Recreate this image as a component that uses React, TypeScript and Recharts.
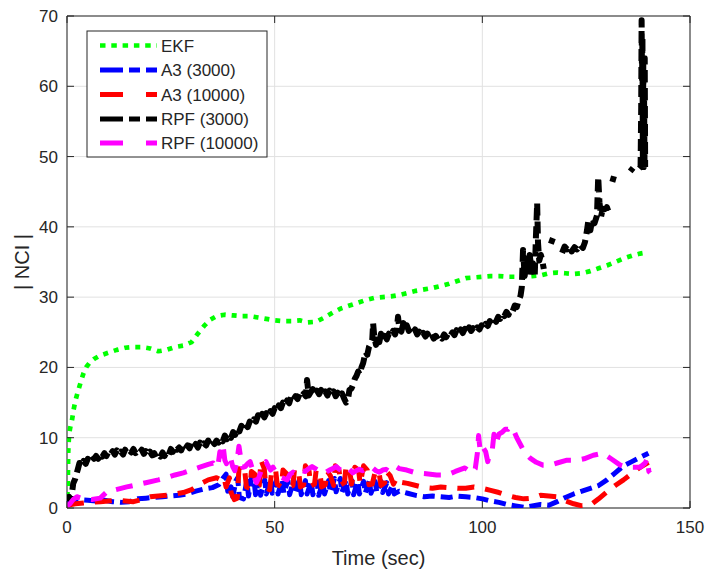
import React from 'react';
import { LineChart, Line, XAxis, YAxis, CartesianGrid, ReferenceArea, Label } from 'recharts';

const W = 707;
const H = 569;
const PL = 67;
const PT = 16;
const PR = 690;
const PB = 508;
const FONT = '"Liberation Sans", Arial, Helvetica, sans-serif';
const AX = '#262626';

const xTicks = [0, 50, 100, 150];
const yTicks = [0, 10, 20, 30, 40, 50, 60, 70];

type Pt = [number, number | null];

const ekf: Pt[] = [
  [0, 0], [0.2, 4], [0.3, 8], [0.5, 10.5], [0.8, 11.5], [1.2, 12.5], [1.6, 14], [2, 15.2], [2.5, 16.3], [3, 17.3],
  [3.5, 18.3], [4, 19.2], [4.7, 20.1], [5.5, 20.7], [6.5, 21.2], [8, 21.7], [10, 22.1], [12, 22.5], [14, 22.8],
  [16, 22.9], [18, 22.9], [20, 22.7], [22, 22.3], [24, 22.5], [26, 22.9], [28, 23.1], [30, 23.6], [31.5, 24.8],
  [33, 25.9], [34.5, 26.8], [36, 27.3], [38, 27.5], [40, 27.4], [42, 27.3], [44, 27.3], [46, 27.1], [48, 26.9],
  [50, 26.7], [52, 26.6], [54, 26.6], [56, 26.7], [58, 26.4], [60, 26.5], [62, 27.1], [64, 27.8], [66, 28.4],
  [68, 28.8], [70, 29.2], [72, 29.6], [74, 29.9], [76, 30.0], [78, 30.1], [80, 30.3], [82, 30.6], [84, 30.9],
  [86, 31.1], [88, 31.3], [90, 31.6], [92, 31.9], [94, 32.3], [96, 32.7], [98, 32.8], [100, 32.9], [102, 33.0],
  [104, 33.0], [106, 32.9], [108, 32.9], [110, 32.9], [112, 33.0], [114, 33.1], [116, 33.4], [118, 33.5],
  [120, 33.4], [122, 33.3], [124, 33.4], [126, 33.7], [128, 34.1], [130, 34.5], [132, 35.0], [134, 35.5],
  [136, 35.9], [138, 36.2], [140, 36.4],
];

const a3k3: Pt[] = [
  [0, 0.6], [1, 0.9], [3, 1.2], [5, 1.1], [7, 1.0], [9, 1.1], [11, 0.9], [13, 0.8], [15, 0.9], [17, 1.3],
  [19, 1.4], [21, 1.5], [23, 1.6], [25, 1.7], [27, 1.8], [29, 2.0], [31, 2.4], [33, 2.7], [35, 2.9], [36.5, 3.3],
  [37.5, 4.2], [38.3, 4.8], [38.7, 2.4], [39.5, 3.0], [39.9, 1.6], [40.7, 3.9], [41.1, 4.3], [41.5, 1.5],
  [42.5, 1.3], [43.3, 3.9], [43.7, 1.7], [44.5, 4.5], [45, 4.2], [45.4, 1.9], [46.2, 4.0], [46.6, 1.8],
  [47.6, 4.0], [48, 2.0], [49, 4.1], [49.4, 2.1], [50.4, 3.9], [50.8, 2.0], [51.8, 4.0], [52.2, 2.1], [53.2, 3.9],
  [53.6, 1.9], [54.6, 4.0], [55, 2.0], [56, 4.0], [56.4, 1.9], [57.4, 3.9], [57.8, 2.0], [58.8, 3.8], [59.2, 1.9],
  [60.2, 3.7], [60.6, 1.8], [61.6, 3.6], [62, 2.0], [63, 3.9], [63.4, 2.2], [64.4, 4.2], [64.8, 2.3], [65.8, 4.2],
  [66.2, 2.2], [67.2, 4.0], [67.6, 2.0], [68.6, 3.9], [69, 1.9], [70, 3.8], [70.4, 2.0], [71.4, 3.8], [71.8, 2.1],
  [72.8, 3.9], [73.2, 2.1], [74.2, 3.8], [74.6, 2.2], [75.6, 3.8], [76, 2.2], [77, 3.6], [77.4, 2.0], [78.4, 3.3],
  [78.8, 2.0], [80, 2.4], [82, 2.1], [84, 1.8], [86, 1.6], [88, 1.7], [90, 1.6], [92, 1.5], [94, 1.7], [96, 1.6],
  [98, 1.5], [100, 1.3], [102, 1.0], [104, 0.8], [106, 0.5], [108, 0.3], [110, 0.1], [112, 0.3], [114, 0.5],
  [116, 0.4], [118, 0.9], [120, 1.5], [122, 2.0], [124, 2.4], [126, 2.8], [128, 3.2], [130, 4.0], [132, 5.0],
  [134, 6.0], [136, 6.6], [138, 7.2], [140, 7.8],
];

const a3k10: Pt[] = [
  [0, 0.4], [2, 0.6], [4, 0.7], [6, 0.8], [8, 0.9], [10, 1.0], [12, 1.1], [14, 1.0], [16, 0.9], [18, 1.2],
  [20, 1.6], [22, 1.7], [24, 1.8], [26, 2.0], [28, 2.2], [30, 2.6], [32, 3.4], [34, 4.0], [36, 4.3], [37, 4.0],
  [37.8, 4.4], [38.3, 3.0], [39.1, 4.3], [39.5, 2.2], [40.3, 1.2], [41, 1.4], [41.4, 5.6], [42.4, 4.8],
  [42.8, 5.3], [43.2, 3.0], [44, 2.8], [44.4, 5.2], [45.2, 4.8], [45.6, 2.8], [46.3, 3.2], [46.7, 6.8],
  [47.5, 5.6], [47.9, 2.9], [48.8, 2.6], [49.2, 4.8], [50.2, 5.6], [50.6, 3.4], [51.6, 3.0], [52, 5.4],
  [53, 4.8], [53.4, 3.0], [54.4, 3.2], [54.8, 5.6], [55.8, 5.0], [56.2, 3.0], [57, 3.3], [57.4, 6.0], [58.3, 5.2],
  [58.7, 3.1], [59.6, 3.4], [60, 5.4], [60.9, 5.0], [61.3, 3.0], [62.2, 3.3], [62.6, 5.3], [63.4, 4.6],
  [64.2, 3.2], [64.6, 6.0], [65.5, 5.4], [65.9, 3.3], [66.8, 3.6], [67.2, 6.0], [68.1, 5.2], [68.5, 3.4],
  [69.3, 5.8], [70.2, 5.4], [70.6, 3.4], [71.4, 6.0], [72.3, 5.4], [72.7, 3.3], [73.5, 3.4], [74.3, 5.4],
  [75.2, 4.8], [75.6, 3.2], [76.5, 3.6], [76.9, 5.2], [77.8, 4.6], [78.6, 3.4], [79.4, 4.3], [80, 3.7],
  [82, 3.5], [84, 3.2], [86, 2.9], [88, 2.8], [90, 3.0], [92, 2.9], [94, 2.8], [96, 2.8], [98, 3.0], [100, 2.8],
  [102, 2.5], [104, 2.2], [106, 1.8], [108, 1.5], [110, 1.3], [112, 1.4], [114, 1.8], [116, 1.7], [118, 1.6],
  [120, 1.0], [122, 0.6], [124, 0.3], [126, 0.4], [128, 1.3], [130, 2.3], [132, 3.2], [134, 4.0], [136, 4.9],
  [138, 5.8], [140, 6.5],
];

const rpf3k: Pt[] = [
  [0, 1.0], [0.5, 1.6], [1, 1.2], [1.5, 3.5], [2, 4.2], [2.6, 5.5], [3, 6.4], [3.5, 6.0], [4, 6.7], [4.5, 6.3],
  [5, 7.0], [5.5, 6.7], [6, 7.4], [6.5, 7.0], [7, 7.4], [7.5, 7.0], [8, 7.7], [8.5, 7.3], [9, 7.8], [9.5, 7.4],
  [10, 8.0], [10.5, 7.6], [11, 8.1], [11.5, 7.6], [12, 8.2], [12.5, 7.7], [13, 8.0], [13.5, 7.6], [14, 8.3],
  [14.5, 7.8], [15, 8.2], [15.5, 7.9], [16, 8.4], [16.5, 7.8], [17, 8.2], [17.5, 7.9], [18, 8.3], [18.5, 7.7],
  [19, 8.1], [19.5, 7.6], [20, 8.0], [20.5, 7.5], [21, 7.8], [21.5, 7.2], [22, 7.6], [22.5, 7.3], [23, 7.9],
  [23.5, 7.4], [24, 8.0], [24.5, 7.6], [25, 8.4], [25.5, 8.0], [26, 8.8], [26.5, 8.3], [27, 8.6], [27.5, 8.2],
  [28, 8.9], [28.5, 8.4], [29, 8.9], [29.5, 8.5], [30, 9.2], [30.5, 8.7], [31, 9.1], [31.5, 8.6], [32, 9.3],
  [32.5, 8.8], [33, 9.2], [33.5, 8.9], [34, 9.6], [34.5, 9.0], [35, 9.5], [35.5, 9.1], [36, 9.6], [36.5, 9.3],
  [37, 9.9], [37.5, 9.5], [38, 10.3], [38.5, 9.8], [39, 10.4], [39.5, 10.0], [40, 10.8], [40.5, 10.4], [41, 11.3],
  [41.5, 10.9], [42, 11.7], [42.5, 11.2], [43, 11.9], [43.5, 11.5], [44, 12.3], [44.5, 11.9], [45, 12.6],
  [45.5, 12.3], [46, 13.2], [46.5, 12.7], [47, 13.4], [47.5, 12.9], [48, 13.5], [48.5, 13.1], [49, 13.8],
  [49.5, 13.4], [50, 14.2], [50.5, 13.8], [51, 14.6], [51.5, 14.2], [52, 15.0], [52.5, 14.6], [53, 15.3],
  [53.5, 14.9], [54, 15.9], [54.5, 15.4], [55, 15.9], [55.5, 15.5], [56, 16.2], [56.5, 15.8], [57, 16.3],
  [57.5, 15.9], [57.8, 18.2], [58.2, 16.0], [58.7, 16.5], [59.2, 16.9], [59.7, 16.1], [60.2, 16.7], [60.7, 16.2],
  [61.2, 16.8], [61.7, 16.1], [62.2, 16.6], [62.7, 16.0], [63.2, 16.7], [63.7, 16.2], [64.2, 16.6], [64.7, 15.9],
  [65.2, 16.4], [65.7, 15.8], [66.2, 16.3], [66.7, 15.6], [67.2, 15.0], [67.6, 15.3], [68, 16.8], [68.5, 17.0],
  [68.9, 17.6], [69.3, 18.4], [69.7, 18.8], [70.1, 19.4], [70.5, 19.0], [70.9, 20.0], [71.3, 20.6], [71.6, 21.4],
  [71.9, 22.2], [72.3, 21.8], [72.7, 22.9], [73.1, 23.4], [73.5, 24.0], [73.7, 26.3], [74.0, 24.3], [74.4, 23.2],
  [74.8, 24.4], [75.2, 23.6], [75.6, 24.8], [76, 24.0], [76.5, 24.5], [77, 24.0], [77.5, 24.8], [78, 24.5],
  [78.5, 25.2], [79, 24.7], [79.4, 25.5], [79.7, 27.2], [80, 25.6], [80.5, 25.1], [81, 26.3], [81.4, 25.5],
  [81.8, 26.0], [82.3, 25.2], [82.8, 25.6], [83.3, 25.0], [83.8, 25.4], [84.3, 24.7], [84.8, 25.1], [85.3, 24.5],
  [85.8, 24.9], [86.3, 24.4], [86.8, 24.8], [87.3, 24.2], [87.8, 24.7], [88.3, 24.1], [88.8, 24.5], [89.3, 24.0],
  [89.8, 24.4], [90.3, 24.1], [90.8, 24.7], [91.3, 24.3], [91.8, 24.9], [92.3, 24.5], [92.8, 25.0], [93.3, 24.6],
  [93.8, 25.3], [94.3, 24.8], [94.8, 25.4], [95.3, 24.9], [95.8, 25.5], [96.3, 25.0], [96.8, 25.7], [97.3, 25.2],
  [97.8, 25.6], [98.3, 25.1], [98.8, 25.7], [99.3, 25.4], [99.8, 26.0], [100.3, 25.5], [100.8, 26.2],
  [101.3, 25.9], [101.8, 26.6], [102.3, 26.2], [102.8, 26.9], [103.3, 26.5], [103.8, 27.2], [104.3, 26.9],
  [104.8, 27.6], [105.3, 27.3], [105.8, 27.9], [106.3, 27.5], [106.8, 28.2], [107.3, 28.0], [107.8, 28.8],
  [108.3, 28.6], [108.8, 29.6], [109.2, 30.2], [109.5, 31.4], [109.8, 36.7], [110.2, 33.0], [110.6, 35.5],
  [111.0, 33.2], [111.4, 36.0], [111.8, 34.2], [112.2, 34.8], [112.6, 32.8], [112.9, 38.5], [113.2, 43.4],
  [113.4, 37.8], [113.7, 35.2], [114.1, 36.0], [114.4, 35.3], [114.8, 34.0], [115.2, null], [116.5, 37.6],
  [117, 38.4], [117.2, null], [119.2, 36.3], [119.8, 37.2], [120.4, 36.8], [121, 37.3], [121.5, 36.5],
  [122.2, 37.1], [122.8, 36.8], [123.5, 37.5], [124.2, 37.0], [124.7, 37.8], [125.2, 39.5], [125.5, 40.8],
  [126, 39.5], [126.5, 41.2], [127, 40.5], [127.6, 41.6], [127.9, 47.1], [128.2, 43.5], [128.6, 41.5],
  [129, 42.6], [129.5, 41.8], [130, 42.8], [130.3, 42.3], [130.6, null], [131.3, 46.4], [131.7, 47.2],
  [131.9, null], [135.6, 47.9], [136.3, 48.4], [136.5, null], [137.8, 48.3], [138.1, 48.5], [138.25, 57],
  [138.35, 69.4], [138.45, 61], [138.55, 67], [138.65, 50], [138.75, 63], [138.85, 48.5], [138.95, 58],
  [139.05, 49], [139.1, 64], [139.2, 48.5],
];

const rpf10k: Pt[] = [
  [0, 0.3], [0.7, 0.6], [1.5, 1.2], [2.4, 1.6], [4, 1.3], [6, 1.2], [8, 1.4], [9.6, 2.3], [11, 2.5], [13, 2.8],
  [14.4, 3.0], [16.8, 3.3], [19, 3.6], [22, 4.0], [24, 4.3], [26, 4.7], [28, 5.0], [30, 5.4], [32, 5.8],
  [34, 6.2], [35.2, 6.4], [35.8, 5.8], [36.4, 6.2], [36.8, 8.0], [37.2, 7.4], [37.6, 8.8], [38, 6.8],
  [38.4, 6.3], [38.9, 7.4], [39.4, 7.1], [39.9, 5.9], [40.4, 5.3], [40.9, 6.6], [41.4, 8.8], [41.8, 7.2],
  [42.3, 5.8], [42.9, 5.9], [43.5, 6.3], [44.1, 6.6], [44.6, 5.6], [45.1, 4.4], [45.6, 3.6], [46.1, 4.2],
  [46.7, 5.2], [47.3, 6.2], [47.9, 6.6], [48.4, 6.0], [49, 5.4], [49.6, 5.8], [50.2, 5.2], [50.8, 4.6],
  [51.4, 4.4], [52.2, 4.2], [53, 4.0], [53.7, 4.8], [54.4, 5.1], [55, 4.7], [55.8, 4.9], [56.6, 5.3],
  [57.4, 5.2], [58.2, 5.6], [59, 5.9], [59.8, 5.6], [60.6, 5.3], [61.5, 5.5], [62.4, 5.1], [63.2, 5.4],
  [64, 5.6], [64.8, 5.9], [65.6, 5.5], [66.4, 5.3], [67.2, 5.8], [68, 5.5], [68.8, 5.0], [69.6, 5.3],
  [70.4, 5.5], [71.2, 5.3], [72, 5.6], [72.8, 5.9], [73.6, 5.7], [74.4, 5.3], [75.2, 5.1], [76, 5.4],
  [76.8, 5.5], [77.6, 5.2], [78.4, 5.6], [79.2, 5.9], [80, 5.6], [81.8, 5.4], [84, 5.0], [86, 4.9], [89, 4.7],
  [91.5, 4.7], [93.5, 5.2], [95.8, 5.7], [97.5, 5.0], [98.3, 5.6], [98.8, 7.8], [99.1, 10.3], [99.5, 8.0],
  [100.2, 8.6], [100.8, 8.0], [101.3, 6.6], [101.8, 7.8], [102.4, 8.3], [102.8, 10.5], [103.3, 9.2],
  [104, 10.5], [104.8, 10.8], [105.5, 11.2], [106.2, 11.2], [107, 11.6], [107.5, 11.1], [108.3, 10.0],
  [109.2, 9.0], [109.8, 8.3], [110.7, 7.6], [111.5, 7.1], [113, 6.5], [114.6, 6.1], [116.3, 6.1], [118, 6.4],
  [120.4, 6.8], [122.8, 6.8], [124.5, 7.0], [126.7, 7.5], [129, 7.8], [131, 7.0], [133.2, 6.1], [134.8, 5.8],
  [136.5, 5.8], [138, 5.8], [139.2, 6.4], [139.7, 7.0], [140.1, 5.2], [140.4, 5.0],
];

const seriesList = [
  { name: 'EKF', pts: ekf, color: '#00ff00', dash: '5 6', legendDash: '5.5 5.8', width: 4.7 },
  { name: 'A3 (3000)', pts: a3k3, color: '#0000ff', dash: '12 6', legendDash: '23 6 11 6', width: 5 },
  { name: 'A3 (10000)', pts: a3k10, color: '#ff0000', dash: '17 11', legendDash: '23 23', width: 5 },
  { name: 'RPF (3000)', pts: rpf3k, color: '#000000', dash: '12 6', legendDash: '23 6 11 6', width: 6 },
  { name: 'RPF (10000)', pts: rpf10k, color: '#ff00ff', dash: '17 11', legendDash: '23 23', width: 5 },
];

const toData = (pts: Pt[]) => pts.map(([t, v]) => ({ t, v }));

const YTick = (props: any) => {
  const { y, payload } = props;
  return (
    <g>
      <text x={PL - 9} y={y + 6} textAnchor="end" fontSize={17} fill={AX} fontFamily={FONT}>
        {payload.value}
      </text>
      <line x1={PL} x2={PL + 7} y1={y} y2={y} stroke={AX} strokeWidth={1} />
      <line x1={PR - 7} x2={PR} y1={y} y2={y} stroke={AX} strokeWidth={1} />
    </g>
  );
};

const XTick = (props: any) => {
  const { x, payload } = props;
  return (
    <g>
      <text x={x} y={PB + 25} textAnchor="middle" fontSize={17} fill={AX} fontFamily={FONT}>
        {payload.value}
      </text>
      <line x1={x} x2={x} y1={PB} y2={PB - 7} stroke={AX} strokeWidth={1} />
      <line x1={x} x2={x} y1={PT} y2={PT + 7} stroke={AX} strokeWidth={1} />
    </g>
  );
};

const LegendBox = () => {
  const rowY = [15.5, 40, 64.5, 89, 113];
  return (
    <svg width={182} height={128} style={{ position: 'absolute', left: 86, top: 30 }}>
      <rect x={1} y={1} width={180} height={126} fill="#ffffff" stroke={AX} strokeWidth={1} />
      {seriesList.map((s, i) => (
        <g key={s.name}>
          <line
            x1={14}
            x2={71}
            y1={rowY[i]}
            y2={rowY[i]}
            stroke={s.color}
            strokeWidth={Math.min(s.width, 5)}
            strokeDasharray={s.legendDash}
          />
          <text x={75} y={rowY[i] + 6} fontSize={17} fill={AX} fontFamily={FONT}>
            {s.name}
          </text>
        </g>
      ))}
    </svg>
  );
};

export default function App() {
  return (
    <div style={{ position: 'absolute', left: 0, top: 0, width: W, height: H, background: '#fff' }}>
      <LineChart width={W} height={H} margin={{ top: PT, right: W - PR, bottom: 0, left: 0 }}>
        <CartesianGrid stroke="#e1e1e1" strokeWidth={1} />
        <XAxis
          type="number"
          dataKey="t"
          domain={[0, 150]}
          ticks={xTicks}
          interval={0}
          allowDataOverflow
          height={H - PB}
          axisLine={false}
          tickLine={false}
          tick={XTick}
        >
          <Label
            content={() => (
              <text x={(PL + PR) / 2} y={565} textAnchor="middle" fontSize={20} fill={AX} fontFamily={FONT}>
                Time (sec)
              </text>
            )}
          />
        </XAxis>
        <YAxis
          type="number"
          domain={[0, 70]}
          ticks={yTicks}
          interval={0}
          allowDataOverflow
          width={PL}
          axisLine={false}
          tickLine={false}
          tick={YTick}
        >
          <Label
            content={() => (
              <text
                transform={`translate(22, ${(PT + PB) / 2}) rotate(-90)`}
                textAnchor="middle"
                dominantBaseline="central"
                fontSize={20}
                fill={AX}
                fontFamily={FONT}
              >
                | NCI |
              </text>
            )}
          />
        </YAxis>
        <ReferenceArea x1={0} x2={150} y1={0} y2={70} fill="none" stroke={AX} strokeWidth={1} ifOverflow="visible" />
        {seriesList.map((s) => (
          <Line
            key={s.name}
            data={toData(s.pts)}
            dataKey="v"
            type="linear"
            stroke={s.color}
            strokeWidth={s.width}
            strokeDasharray={s.dash}
            strokeLinejoin="round"
            connectNulls={false}
            dot={false}
            activeDot={false}
            isAnimationActive={false}
            name={s.name}
          />
        ))}
      </LineChart>
      <LegendBox />
    </div>
  );
}
